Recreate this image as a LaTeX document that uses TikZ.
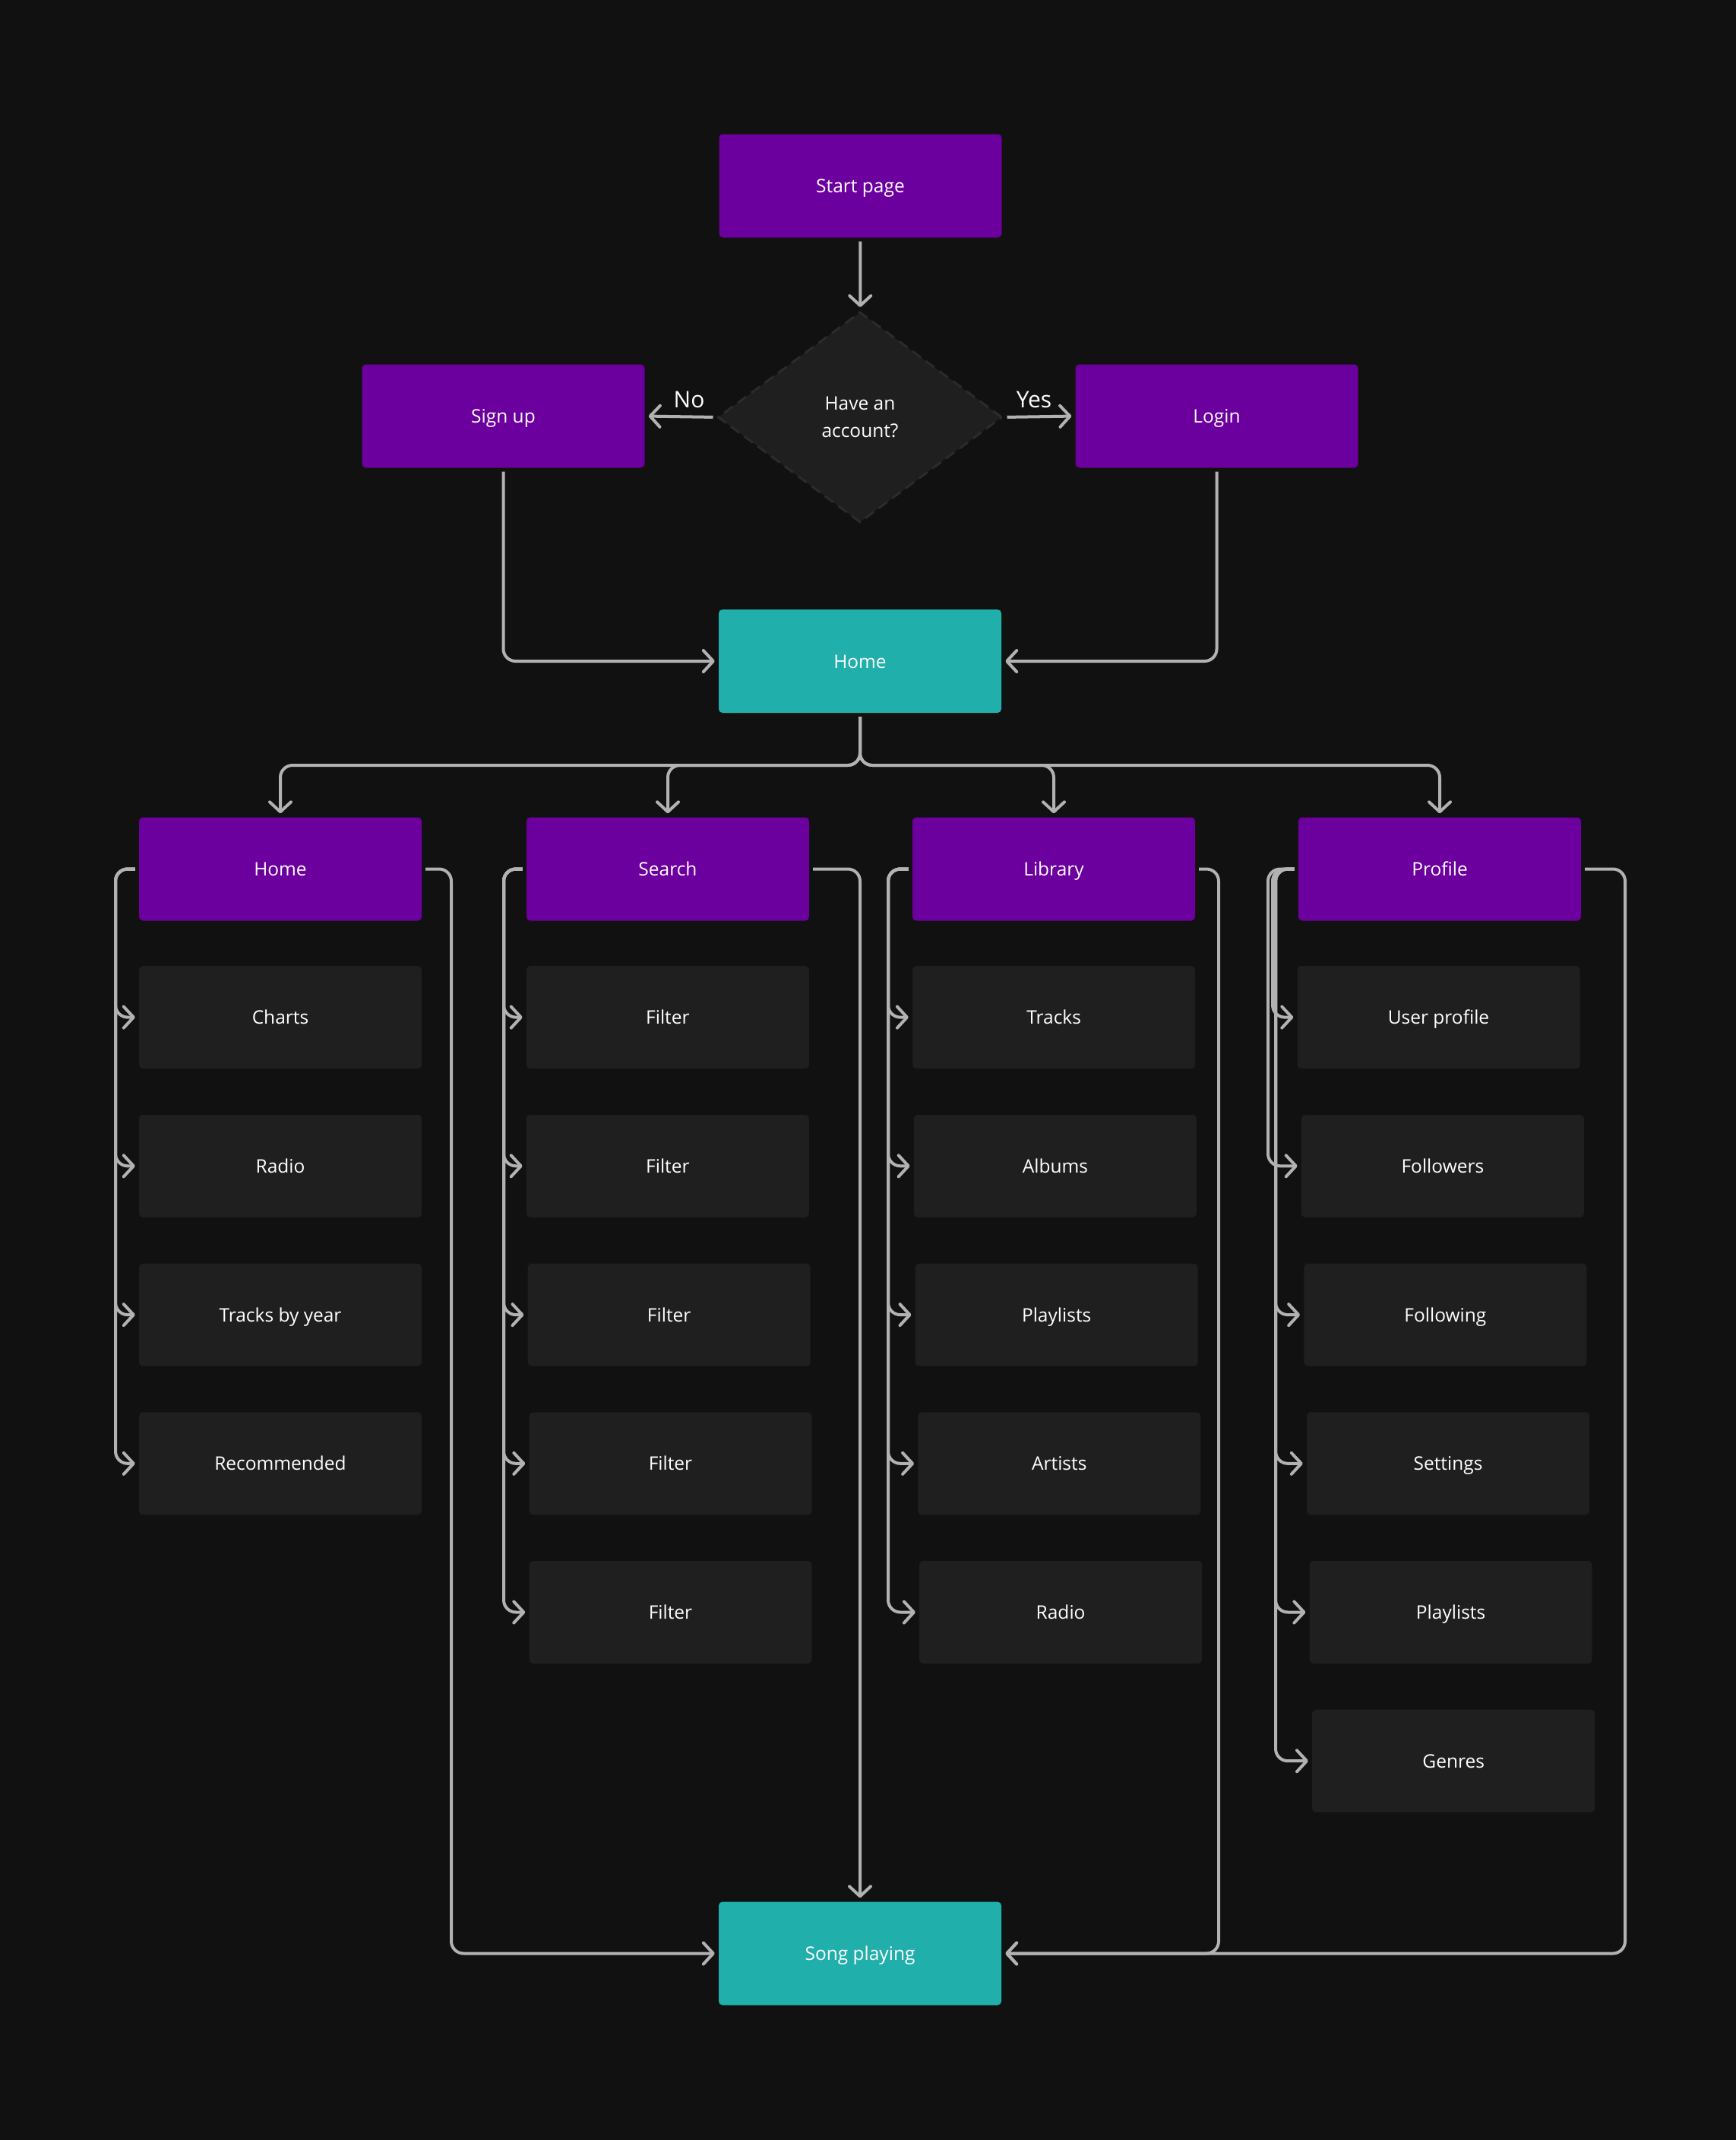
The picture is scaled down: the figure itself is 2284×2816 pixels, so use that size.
\documentclass[tikz,border=0pt]{standalone}
\usepackage{fontspec}
\setmainfont{Open Sans}
\usetikzlibrary{arrows.meta,shapes.geometric}
\definecolor{bgc}{HTML}{111111}
\definecolor{purp}{HTML}{6C009E}
\definecolor{tealbox}{HTML}{20AFAB}
\definecolor{cardc}{HTML}{1F1F1F}
\definecolor{dashc}{HTML}{2B2B2B}
\definecolor{linec}{HTML}{B2B2B2}
\begin{document}
\begin{tikzpicture}[x=1pt,y=-1pt,
  box/.style={rectangle, rounded corners=5pt, minimum width=372pt, minimum height=136pt, inner sep=0pt, text=white, text height=22pt, text depth=4pt, font=\fontsize{24.5}{29}\selectfont},
  mainbox/.style={box, fill=purp},
  tealb/.style={box, fill=tealbox},
  cardbox/.style={box, fill=cardc, minimum height=135pt},
  lbl/.style={text=white, inner sep=0pt, font=\fontsize{30}{36}\selectfont},
  conn/.style={draw=linec, line width=4pt, rounded corners=16pt, -{Straight Barb[length=13pt,width=28pt,line width=4pt,round]}, shorten >=5pt, shorten <=5pt}
]
\useasboundingbox (0,0) rectangle (2284,2816);
\fill[bgc] (-4,-4) rectangle (2288,2820);

% top flow
\node[mainbox] (start) at (1132.5,244.5) {Start page};
\node[diamond, fill=cardc, draw=dashc, dash pattern=on 14pt off 8pt, line width=3pt, minimum width=374pt, minimum height=277pt, inner sep=0pt, text=white, align=center, font=\fontsize{24.5}{36}\selectfont] (dia) at (1132,549) {Have an\\account?};
\node[mainbox] (signup) at (662.5,547.5) {Sign up};
\node[mainbox] (login) at (1601.5,547.5) {Login};
\node[tealb] (home) at (1132,870) {Home};
\node[lbl] (no) at (907,526) {No};
\node[lbl] (yes) at (1361,526) {Yes};

% level 2
\node[mainbox] (hp) at (369,1143.5) {Home};
\node[mainbox] (sp) at (879,1143.5) {Search};
\node[mainbox] (lp) at (1387,1143.5) {Library};
\node[mainbox] (pp) at (1895,1143.5) {Profile};

% home children
\node[cardbox] (hc1) at (369,1338.6) {Charts};
\node[cardbox] (hc2) at (369,1534.3) {Radio};
\node[cardbox] (hc3) at (369,1730.1) {Tracks by year};
\node[cardbox] (hc4) at (369,1925.8) {Recommended};
% search children
\node[cardbox] (sc1) at (878.9,1338.6) {Filter};
\node[cardbox] (sc2) at (878.9,1534.3) {Filter};
\node[cardbox] (sc3) at (880.7,1730.1) {Filter};
\node[cardbox] (sc4) at (882.5,1925.8) {Filter};
\node[cardbox] (sc5) at (882.5,2121.5) {Filter};
% library children
\node[cardbox] (lc1) at (1387.1,1338.6) {Tracks};
\node[cardbox] (lc2) at (1388.9,1534.3) {Albums};
\node[cardbox] (lc3) at (1390.7,1730.1) {Playlists};
\node[cardbox] (lc4) at (1394.3,1925.8) {Artists};
\node[cardbox] (lc5) at (1396.1,2121.5) {Radio};
% profile children
\node[cardbox] (pc1) at (1893.5,1338.6) {User profile};
\node[cardbox] (pc2) at (1898.9,1534.3) {Followers};
\node[cardbox] (pc3) at (1902.4,1730.1) {Following};
\node[cardbox] (pc4) at (1906.0,1925.8) {Settings};
\node[cardbox] (pc5) at (1909.6,2121.5) {Playlists};
\node[cardbox] (pc6) at (1913.2,2317.2) {Genres};

\node[tealb] (song) at (1132,2570.5) {Song playing};

% coordinates
\coordinate (bj) at (1132,1007);
\coordinate (hL) at (152,1143.5);
\coordinate (sL) at (663,1143.5);
\coordinate (lL) at (1169,1143.5);
\coordinate (pL0) at (1669,1143.5);
\coordinate (pL1) at (1675,1143.5);
\coordinate (pL2) at (1679,1143.5);
\coordinate (hR) at (594,2570.5);
\coordinate (lR) at (1604,2570.5);
\coordinate (pR) at (2139,2570.5);

% top connectors
\draw[conn] (start) -- (dia);
\draw[conn] (dia.west) -- (signup.east);
\draw[conn] (dia.east) -- (login.west);
\draw[conn] (signup.south) |- (home.west);
\draw[conn] (login.south) |- (home.east);

% branches
\draw[conn] (home.south) |- (bj -| hp.north) -- (hp.north);
\draw[conn] (home.south) |- (bj -| sp.north) -- (sp.north);
\draw[conn] (home.south) |- (bj -| lp.north) -- (lp.north);
\draw[conn] (home.south) |- (bj -| pp.north) -- (pp.north);

% children
\foreach \c in {hc1,hc2,hc3,hc4} \draw[conn] (hp.west) -- (hL) |- (\c.west);
\foreach \c in {sc1,sc2,sc3,sc4,sc5} \draw[conn] (sp.west) -- (sL) |- (\c.west);
\foreach \c in {lc1,lc2,lc3,lc4,lc5} \draw[conn] (lp.west) -- (lL) |- (\c.west);
\draw[conn] (pp.west) -- (pL1) |- (pc1.west);
\draw[conn] (pp.west) -- (pL0) |- (pc2.west);
\foreach \c in {pc3,pc4,pc5,pc6} \draw[conn] (pp.west) -- (pL2) |- (\c.west);

% to song playing
\draw[conn] (hp.east) -| (hR) -- (song.west);
\draw[conn] (sp.east) -| (song.north);
\draw[conn] (lp.east) -| (lR) -- (song.east);
\draw[conn] (pp.east) -| (pR) -- (song.east);
\end{tikzpicture}
\end{document}
